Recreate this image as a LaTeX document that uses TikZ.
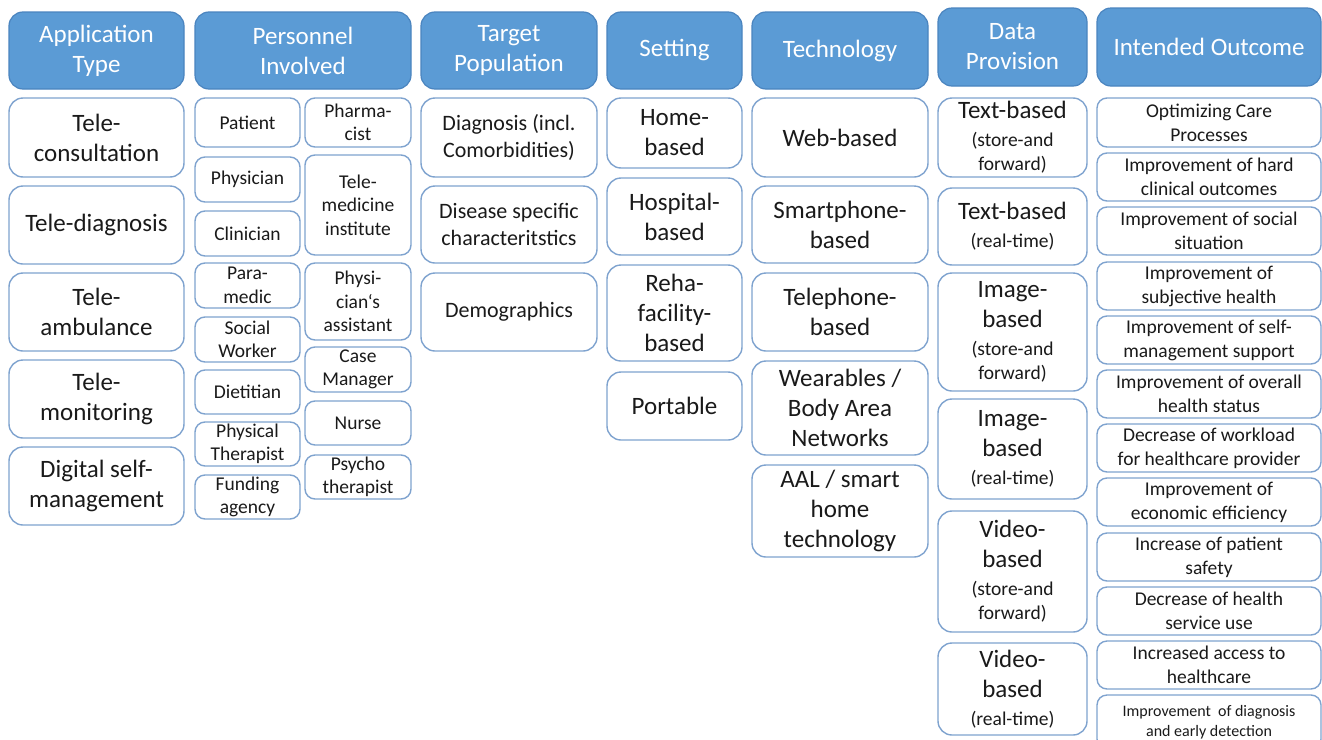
\documentclass[tikz,border=0pt]{standalone}
\usepackage{fontspec}
\setmainfont{Carlito}
\definecolor{hdrblue}{HTML}{5B9BD5}
\definecolor{hdrline}{HTML}{4A84BF}
\definecolor{boxline}{HTML}{7FA3CF}
\definecolor{txt}{HTML}{1A1A1A}
\newcommand\bx[7]{\node[#2,minimum width={(#5-#3)*1pt},minimum height={(#6-#4)*1pt}] (#1) at ({(#3+#5)/2*1pt},{-(#4+#6)/2*1pt}) {#7};}
\newcommand\bigf[1]{{\fontsize{25}{30}\selectfont #1}}
\tikzset{
  hdr/.style={rectangle,rounded corners=14pt,fill=hdrblue,draw=hdrline,line width=1.2pt,text=white,
    font=\fontsize{25}{30}\selectfont,align=center,inner sep=0pt},
  bigbox/.style={rectangle,rounded corners=14pt,fill=white,draw=boxline,line width=1.4pt,text=txt,
    font=\fontsize{25}{30}\selectfont,align=center,inner sep=0pt},
  midbox/.style={bigbox,font=\fontsize{22}{27}\selectfont},
  smallbox/.style={bigbox,rounded corners=10pt,font=\fontsize{19.5}{23.5}\selectfont},
  databox/.style={bigbox,font=\fontsize{19.5}{24}\selectfont},
  outbox/.style={bigbox,rounded corners=10pt,font=\fontsize{19.5}{24}\selectfont},
}
\begin{document}
\begin{tikzpicture}
\clip (0pt,0pt) rectangle (1322pt,-739pt);
\fill[white] (0pt,0pt) rectangle (1322pt,-739pt);
% headers
\bx{h1}{hdr}{9}{12}{184}{89}{Application\\Type}
\bx{h2}{hdr}{195}{12}{411}{89}{Personnel\\Involved}
\bx{h3}{hdr}{421}{12}{597}{89}{Target\\Population}
\bx{h4}{hdr}{607}{12}{742}{89}{Setting}
\bx{h5}{hdr}{752}{12}{928}{89}{Technology}
\bx{h6}{hdr}{938}{8}{1087}{86}{Data\\Provision}
\bx{h7}{hdr}{1097}{8}{1321}{86}{Intended Outcome}
% application type
\bx{a1}{bigbox}{9}{98}{184}{177}{Tele-\\consultation}
\bx{a2}{bigbox}{9}{186}{184}{264}{Tele-diagnosis}
\bx{a3}{bigbox}{9}{273}{184}{351}{Tele-\\ambulance}
\bx{a4}{bigbox}{9}{360}{184}{438}{Tele-\\monitoring}
\bx{a5}{bigbox}{9}{447}{184}{525}{Digital self-\\management}
% personnel col 1
\bx{p1}{smallbox}{195}{98}{300}{147}{Patient}
\bx{p2}{smallbox}{195}{157}{300}{202}{Physician}
\bx{p3}{smallbox}{195}{211}{300}{256}{Clinician}
\bx{p4}{smallbox}{195}{263}{300}{308}{Para-\\medic}
\bx{p5}{smallbox}{195}{317}{300}{362}{Social\\Worker}
\bx{p6}{smallbox}{195}{370}{300}{414}{Dietitian}
\bx{p7}{smallbox}{195}{422}{300}{466}{Physical\\Therapist}
\bx{p8}{smallbox}{195}{475}{300}{519}{Funding\\agency}
% personnel col 2
\bx{q1}{smallbox}{305}{98}{411}{147}{Pharma-\\cist}
\bx{q2}{smallbox}{305}{155}{411}{255}{Tele-\\medicine\\institute}
\bx{q3}{smallbox}{305}{263}{411}{340}{Physi-\\cian‘s\\assistant}
\bx{q4}{smallbox}{305}{347}{411}{392}{Case\\Manager}
\bx{q5}{smallbox}{305}{401}{411}{445}{Nurse}
\bx{q6}{smallbox}{305}{455}{411}{499}{Psycho\\therapist}
% target population
\bx{t1}{midbox}{421}{98}{597}{177}{Diagnosis (incl.\\Comorbidities)}
\bx{t2}{midbox}{421}{186}{597}{263}{Disease specific\\characteritstics}
\bx{t3}{midbox}{421}{273}{597}{351}{Demographics}
% setting
\bx{s1}{bigbox}{607}{98}{742}{168}{Home-\\based}
\bx{s2}{bigbox}{607}{178}{742}{255}{Hospital-\\based}
\bx{s3}{bigbox}{607}{265}{742}{361}{Reha-\\facility-\\based}
\bx{s4}{bigbox}{607}{372}{742}{440}{Portable}
% technology
\bx{k1}{bigbox}{752}{98}{928}{177}{Web-based}
\bx{k2}{bigbox}{752}{186}{928}{263}{Smartphone-\\based}
\bx{k3}{bigbox}{752}{273}{928}{351}{Telephone-\\based}
\bx{k4}{bigbox}{752}{361}{928}{455}{Wearables /\\Body Area\\Networks}
\bx{k5}{bigbox}{752}{465}{928}{557}{AAL / smart\\home\\technology}
% data provision
\bx{d1}{databox}{938}{98}{1087}{177}{\bigf{Text-based}\\[4pt](store-and\\forward)}
\bx{d2}{databox}{938}{188}{1087}{265}{\bigf{Text-based}\\[4pt](real-time)}
\bx{d3}{databox}{938}{273}{1087}{391}{\bigf{Image-}\\[6pt]\bigf{based}\\[4pt](store-and\\forward)}
\bx{d4}{databox}{938}{399}{1087}{499}{\bigf{Image-}\\[6pt]\bigf{based}\\[4pt](real-time)}
\bx{d5}{databox}{938}{511}{1087}{632}{\bigf{Video-}\\[6pt]\bigf{based}\\[4pt](store-and\\forward)}
\bx{d6}{databox}{938}{643}{1087}{735}{\bigf{Video-}\\[6pt]\bigf{based}\\[4pt](real-time)}
% intended outcome
\bx{o1}{outbox}{1097}{98}{1321}{147}{Optimizing Care\\Processes}
\bx{o2}{outbox}{1097}{153}{1321}{201}{Improvement of hard\\clinical outcomes}
\bx{o3}{outbox}{1097}{207}{1321}{255}{Improvement of social\\situation}
\bx{o4}{outbox}{1097}{262}{1321}{310}{Improvement of\\subjective health}
\bx{o5}{outbox}{1097}{316}{1321}{364}{Improvement of self-\\management support}
\bx{o6}{outbox}{1097}{370}{1321}{418}{Improvement of overall\\health status}
\bx{o7}{outbox}{1097}{424}{1321}{472}{Decrease of workload\\for healthcare provider}
\bx{o8}{outbox}{1097}{478}{1321}{526}{Improvement of\\economic efficiency}
\bx{o9}{outbox}{1097}{533}{1321}{581}{Increase of patient\\safety}
\bx{o10}{outbox}{1097}{587}{1321}{635}{Decrease of health\\service use}
\bx{o11}{outbox}{1097}{641}{1321}{689}{Increased access to\\healthcare}
\bx{o12}{outbox,font=\fontsize{16}{20}\selectfont}{1097}{695}{1321}{749}{Improvement\ \ of diagnosis\\and early detection}
\end{tikzpicture}
\end{document}
